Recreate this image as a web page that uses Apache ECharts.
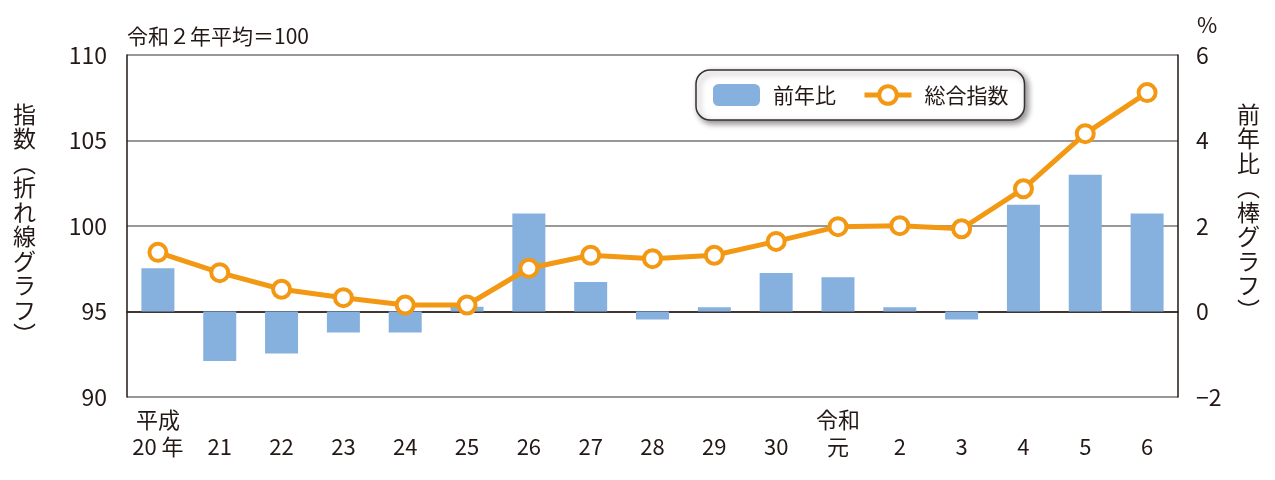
<!DOCTYPE html>
<html><head><meta charset="utf-8">
<script src="https://cdn.jsdelivr.net/npm/echarts@6/dist/echarts.min.js"></script>
<style>html,body{margin:0;padding:0;background:#fff}#c{width:1275px;height:480px}</style>
</head><body><div id="c"></div>
<script>
const categories = ['平成\n20 年','\n21','\n22','\n23','\n24','\n25','\n26','\n27','\n28','\n29','\n30','令和\n元','\n2','\n3','\n4','\n5','\n6'];
const indexValues = [98.46,97.27,96.3,95.81,95.38,95.38,97.53,98.29,98.09,98.29,99.1,99.96,100.02,99.84,102.18,105.4,107.8];
const yoyValues = [1.01,-1.16,-0.98,-0.49,-0.49,0.11,2.29,0.69,-0.19,0.1,0.9,0.8,0.1,-0.19,2.5,3.2,2.29];
const leftTicks = {min:90,max:110,interval:5};
const rightTicks = {min:-2,max:6,interval:2};

const FONT = '"Noto Sans CJK JP", "Noto Sans", sans-serif';
const TXT = '#231815';
const ORANGE = '#f39813';
const chart = echarts.init(document.getElementById('c'));
function vert(s){return s.split('').join('\n');}
chart.setOption({
  animation:false,
  textStyle:{fontFamily:FONT,color:TXT},
  grid:{left:127,right:97,top:55,bottom:83,containLabel:false},
  legend:{
    left:696, top:70, width:322, height:53,
    padding:[14,16,14,17], itemGap:26,
    itemWidth:47, itemHeight:22,
    backgroundColor:'#fff', borderColor:'#3a3030', borderWidth:1.5, borderRadius:14,
    shadowColor:'rgba(0,0,0,0.45)', shadowBlur:6, shadowOffsetX:3, shadowOffsetY:3,
    textStyle:{fontFamily:FONT,fontSize:21,color:TXT,padding:[0,0,0,8]},
    data:[
      {name:'前年比'},
      {name:'総合指数',lineStyle:{width:5,color:ORANGE},itemStyle:{color:'#fff',borderColor:ORANGE,borderWidth:4}}
    ]
  },
  xAxis:{
    type:'category', data:categories,
    axisLine:{lineStyle:{color:'#231815',width:1.5}},
    axisTick:{show:false},
    axisLabel:{fontFamily:FONT,fontSize:22,color:TXT,lineHeight:27,margin:9,interval:0}
  },
  yAxis:[
    {type:'value',min:leftTicks.min,max:leftTicks.max,interval:leftTicks.interval,
     axisLine:{show:true,lineStyle:{color:'#231815',width:1.5}},
     axisTick:{show:false},
     axisLabel:{fontFamily:FONT,fontSize:23,color:TXT,margin:20},
     splitLine:{show:true,lineStyle:{color:'#7a7474',width:1.5}}},
    {type:'value',min:rightTicks.min,max:rightTicks.max,interval:rightTicks.interval,
     axisLine:{show:true,lineStyle:{color:'#231815',width:1.5}},
     axisTick:{show:false},
     axisLabel:{fontFamily:FONT,fontSize:23,color:TXT,margin:18,
       formatter:v=>v<0?'−'+Math.abs(v):String(v)},
     splitLine:{show:false}}
  ],
  series:[
    {name:'前年比',type:'bar',yAxisIndex:1,data:yoyValues,barWidth:33,
     itemStyle:{color:'#86b1de'},z:2},
    {name:'総合指数',type:'line',yAxisIndex:0,data:indexValues,
     symbol:'circle',symbolSize:17,
     lineStyle:{color:ORANGE,width:5},
     itemStyle:{color:'#fff',borderColor:ORANGE,borderWidth:4},z:5}
  ],
  graphic:[
    {type:'text',left:127,top:26,style:{text:'令和２年平均＝100',font:'21px '+FONT,fill:TXT}},
    {type:'text',left:1197,top:14,style:{text:'%',font:'22px '+FONT,fill:TXT}},
    {type:'text',left:13,top:102,style:{text:vert('指数︵折れ線グラフ︶'),font:'23px '+FONT,fill:TXT,lineHeight:24.5,align:'left'}},
    {type:'text',left:1237,top:102,style:{text:vert('前年比︵棒グラフ︶'),font:'23px '+FONT,fill:TXT,lineHeight:24.5,align:'left'}}
  ]
});
</script></body></html>
